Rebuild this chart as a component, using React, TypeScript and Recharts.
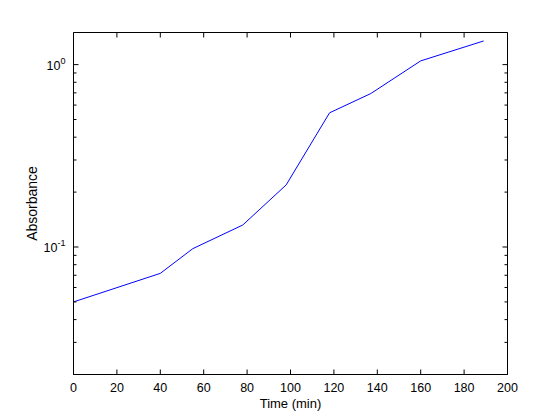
import React from 'react'
import { LineChart, Line, XAxis, YAxis } from 'recharts'

const times = [0, 40, 55, 78, 98, 118, 137, 160, 189]
const absorbance = [0.05, 0.0717, 0.098, 0.132, 0.219, 0.544, 0.694, 1.048, 1.348]
const timeTicks = [0, 20, 40, 60, 80, 100, 120, 140, 160, 180, 200]
const absTicks = [
  0.02, 0.03, 0.04, 0.05, 0.06, 0.07, 0.08, 0.09, 0.1,
  0.2, 0.3, 0.4, 0.5, 0.6, 0.7, 0.8, 0.9, 1,
]
const majorTicks: Record<number, string> = { 0.1: '-1', 1: '0' }

const data = times.map((t, i) => ({ t, a: absorbance[i] }))

const FONT = '"Liberation Sans", Arial, Helvetica, sans-serif'

const BottomTick = (props: any) => {
  const { x, y, payload } = props
  return (
    <g>
      <line x1={x} x2={x} y1={y} y2={y - 5} stroke="#000" />
      <text x={x} y={y + 17} textAnchor="middle" fontSize={12.5} fontFamily={FONT} fill="#000">
        {payload.value}
      </text>
    </g>
  )
}

const TopTick = (props: any) => {
  const { x, y } = props
  return <line x1={x} x2={x} y1={y} y2={y + 5} stroke="#000" />
}

const LeftTick = (props: any) => {
  const { x, y, payload } = props
  const exp = majorTicks[payload.value]
  const major = exp !== undefined
  return (
    <g>
      <line x1={x} x2={x + (major ? 5 : 3)} y1={y} y2={y} stroke="#000" />
      {major && (
        <text x={x - 8} y={y + 5} textAnchor="end" fontSize={12.5} fontFamily={FONT} fill="#000">
          10
          <tspan dy={-6} fontSize={9}>{exp}</tspan>
        </text>
      )}
    </g>
  )
}

const RightTick = (props: any) => {
  const { x, y, payload } = props
  const major = majorTicks[payload.value] !== undefined
  return <line x1={x} x2={x - (major ? 5 : 3)} y1={y} y2={y} stroke="#000" />
}

const XTitle = (props: any) => {
  const vb = props.viewBox || { x: 73.5, y: 374.5, width: 434 }
  return (
    <text x={vb.x + vb.width / 2} y={vb.y + 33} textAnchor="middle" fontSize={13} fontFamily={FONT} fill="#000">
      Time (min)
    </text>
  )
}

const YTitle = (props: any) => {
  const vb = props.viewBox || { x: 72.5, y: 32.5, height: 342 }
  const cx = vb.x - 36
  const cy = vb.y + vb.height / 2
  return (
    <text
      x={cx}
      y={cy}
      transform={`rotate(-90 ${cx} ${cy})`}
      textAnchor="middle"
      fontSize={14}
      fontFamily={FONT}
      fill="#000"
    >
      Absorbance
    </text>
  )
}

export default function App() {
  return (
    <div style={{ position: 'absolute', left: 0, top: 0, background: '#fff' }}>
      <LineChart
        width={560}
        height={420}
        data={data}
        margin={{ top: 31.5, right: 51.5, bottom: 44.5, left: 72.5 }}
      >
        <XAxis
          dataKey="t"
          type="number"
          domain={[0, 200]}
          ticks={timeTicks}
          interval={0}
          height={1}
          tickSize={0}
          tickMargin={0}
          stroke="#000"
          tick={<BottomTick />}
          label={<XTitle />}
        />
        <XAxis
          xAxisId="top"
          orientation="top"
          dataKey="t"
          type="number"
          domain={[0, 200]}
          ticks={timeTicks}
          interval={0}
          height={1}
          tickSize={0}
          tickMargin={0}
          stroke="#000"
          tick={<TopTick />}
        />
        <YAxis
          scale="log"
          type="number"
          domain={[0.02, 1.5]}
          allowDataOverflow
          ticks={absTicks}
          interval={0}
          width={1}
          tickSize={0}
          tickMargin={0}
          stroke="#000"
          tick={<LeftTick />}
          label={<YTitle />}
        />
        <YAxis
          yAxisId="right"
          orientation="right"
          scale="log"
          type="number"
          domain={[0.02, 1.5]}
          allowDataOverflow
          ticks={absTicks}
          interval={0}
          width={1}
          tickSize={0}
          tickMargin={0}
          stroke="#000"
          tick={<RightTick />}
        />
        <Line
          type="linear"
          dataKey="a"
          stroke="#0000ff"
          strokeWidth={1}
          dot={false}
          isAnimationActive={false}
        />
      </LineChart>
    </div>
  )
}
